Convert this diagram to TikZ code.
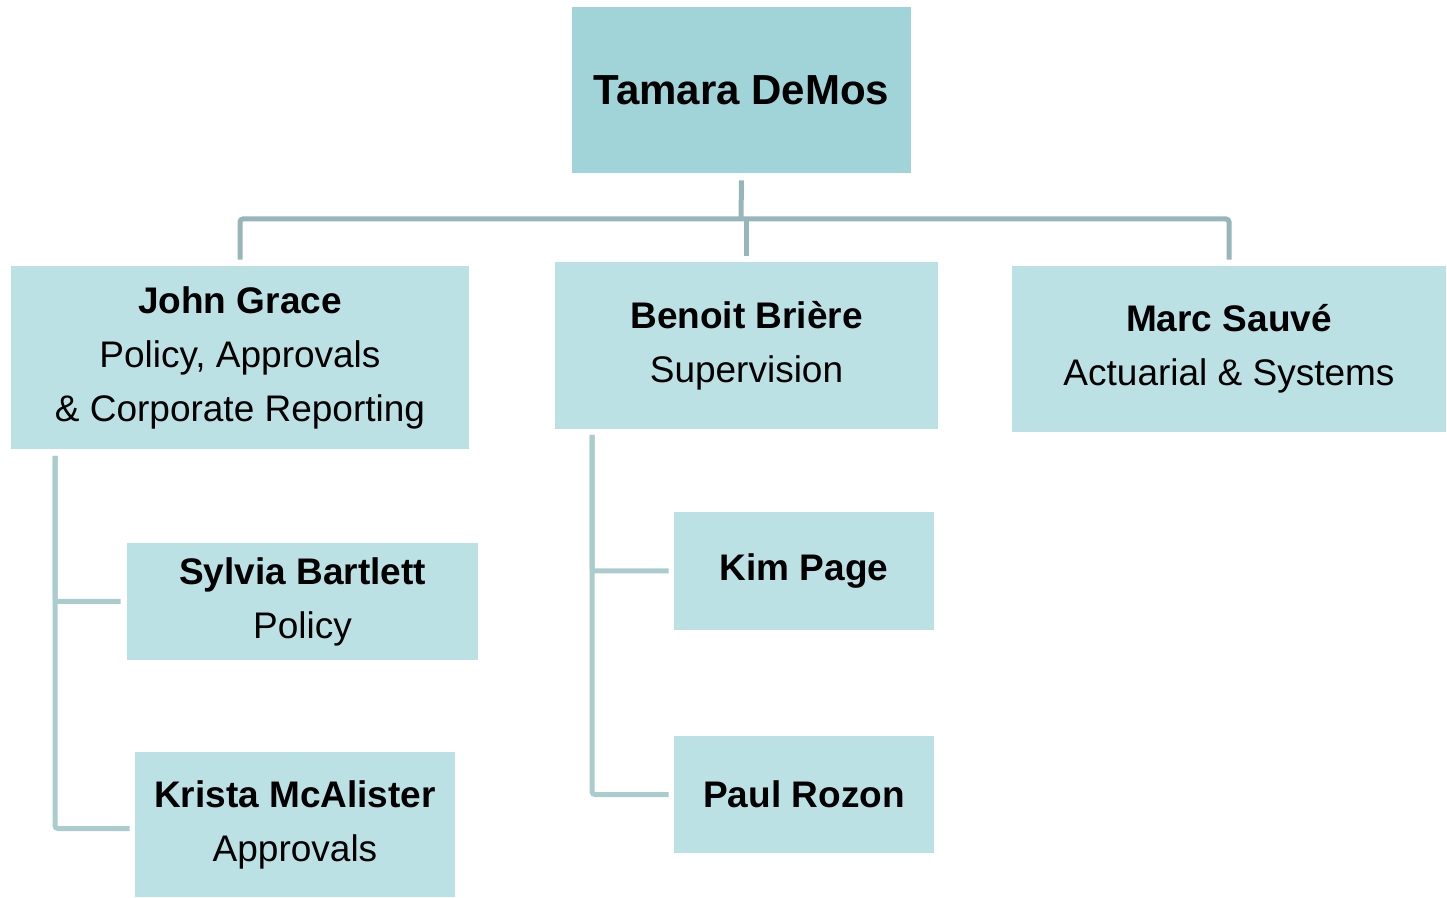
\documentclass[tikz,border=0pt]{standalone}
\usepackage{fontspec}
\setmainfont{Liberation Sans}
\definecolor{headfill}{HTML}{A0D4D8}
\definecolor{boxfill}{HTML}{BBE1E4}
\definecolor{busline}{HTML}{97B6BA}
\definecolor{subline}{HTML}{AACCCD}
\tikzset{
  person/.style={fill=boxfill, align=center, inner sep=0pt,
    font=\fontsize{18.5}{27}\selectfont},
  bus/.style={draw=busline, line width=2.5pt, rounded corners=1.5pt},
  sub/.style={draw=subline, line width=2.5pt, rounded corners=1.5pt}
}
\begin{document}
\begin{tikzpicture}[x=0.5pt,y=-0.5pt]
    \useasboundingbox (0,0) rectangle (1447,898);
    % head and the three managers
    \node[person, fill=headfill, minimum width=169.5pt, minimum height=83pt,
      font=\fontsize{21}{25}\selectfont\bfseries] (tamara) at (741.5,90) {Tamara DeMos};
    \node[person, minimum width=229pt, minimum height=91.5pt] (john) at (240,357.5)
      {\textbf{John Grace}\\Policy, Approvals\\\& Corporate Reporting};
    \node[person, minimum width=191.5pt, minimum height=83.5pt] (benoit) at (746.5,345.5)
      {\textbf{Benoit Brière}\\Supervision};
    \node[person, minimum width=217pt, minimum height=83pt] (marc) at (1229,349)
      {\textbf{Marc Sauvé}\\Actuarial \& Systems};
    % staff
    \node[person, minimum width=175.5pt, minimum height=58.5pt] (sylvia) at (302.5,601.5)
      {\textbf{Sylvia Bartlett}\\Policy};
    \node[person, minimum width=160pt, minimum height=72.5pt] (krista) at (295,824.5)
      {\textbf{Krista McAlister}\\Approvals};
    \node[person, minimum width=130pt, minimum height=59pt] (kim) at (804,571) {\textbf{Kim Page}};
    \node[person, minimum width=130pt, minimum height=58.5pt] (paul) at (804,794.5) {\textbf{Paul Rozon}};
    % connectors
    \coordinate (hub) at (741,219);
    \coordinate (jg) at (55,456);
    \coordinate (bb) at (592,435);
    \draw[bus] ([yshift=-3.5pt]tamara.south) -- (hub);
    \draw[bus] ([yshift=3pt]john.north) |- (hub) -| ([yshift=3pt]marc.north);
    \draw[bus] ([yshift=3pt]benoit.north) -- (benoit.north |- hub);
    \draw[sub] (jg) |- ([xshift=-3pt]sylvia.west);
    \draw[sub] (jg) |- ([xshift=-2.5pt,yshift=-2pt]krista.west);
    \foreach \s in {kim,paul} {\draw[sub] (bb) |- ([xshift=-2.5pt]\s.west);}
\end{tikzpicture}
\end{document}
